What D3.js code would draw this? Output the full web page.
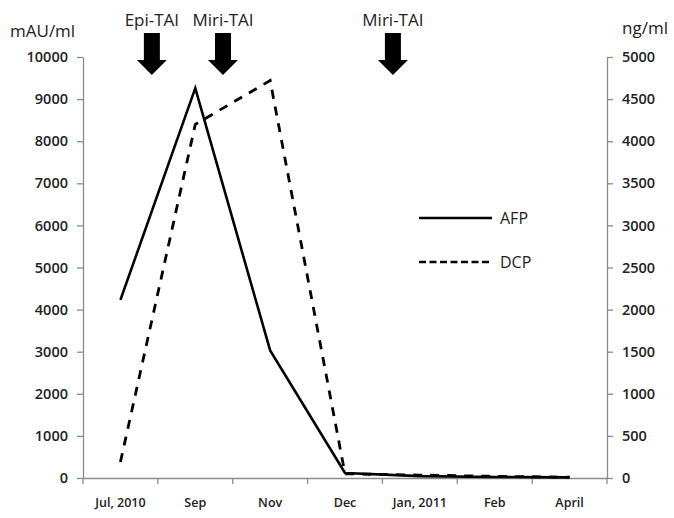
<!DOCTYPE html>
<html>
<head>
<meta charset="utf-8">
<script src="https://cdn.jsdelivr.net/npm/d3@7"></script>
<style>
  body { margin: 0; background: #fff; }
  text { font-family: "Open Sans", "Liberation Sans", Arial, sans-serif; fill: #222; }
  .y-lbl { font-size: 14.5px; font-weight: 600; }
  .x-lbl { font-size: 12.5px; font-weight: 600; }
</style>
</head>
<body>
<svg id="chart" width="674" height="518"></svg>
<script>
// chart data
const months = ['Jul, 2010', 'Sep', 'Nov', 'Dec', 'Jan, 2011', 'Feb', 'April'];
const afp = [4230, 9260, 3030, 120, 45, 25, 15];   // mAU/ml (left axis)
const dcp = [190, 4200, 4720, 50, 35, 20, 10];     // ng/ml (right axis)
const leftTicks = [0, 1000, 2000, 3000, 4000, 5000, 6000, 7000, 8000, 9000, 10000];
const rightTicks = [0, 500, 1000, 1500, 2000, 2500, 3000, 3500, 4000, 4500, 5000];
// treatment events, position in category units from the left axis
const events = [
  { label: 'Epi-TAI', at: 0.92 },
  { label: 'Miri-TAI', at: 1.87 },
  { label: 'Miri-TAI', at: 4.14 }
];

const svg = d3.select('#chart');
const plotL = 83, plotR = 607, plotT = 57, plotB = 478;

const x = d3.scaleBand().domain(months).range([plotL, plotR]).padding(0);
const xi = d3.scaleLinear().domain([0, months.length]).range([plotL, plotR]);
const yL = d3.scaleLinear().domain([0, 10000]).range([plotB, plotT]);
const yR = d3.scaleLinear().domain([0, 5000]).range([plotB, plotT]);
const cx = d => x(d) + x.bandwidth() / 2;

const axisColor = '#8a8a8a';
const fmt = d3.format('d');

// left axis
const gl = svg.append('g').attr('transform', `translate(${plotL},0)`)
  .call(d3.axisLeft(yL).tickValues(leftTicks).tickFormat(fmt)
    .tickSize(6).tickPadding(9).tickSizeOuter(0));
// right axis
const gr = svg.append('g').attr('transform', `translate(${plotR},0)`)
  .call(d3.axisRight(yR).tickValues(rightTicks).tickFormat(fmt)
    .tickSize(6).tickPadding(9).tickSizeOuter(0));
// bottom axis: labels at band centres, ticks at band edges
const gb = svg.append('g').attr('transform', `translate(0,${plotB})`)
  .call(d3.axisBottom(x).tickSize(0).tickPadding(20).tickSizeOuter(0));
gb.selectAll('.boundary')
  .data(d3.range(months.length + 1))
  .enter().append('line')
  .attr('x1', d => xi(d)).attr('x2', d => xi(d))
  .attr('y1', 0).attr('y2', 6);

[gl, gr, gb].forEach(g => {
  g.selectAll('path.domain').attr('stroke', axisColor).attr('stroke-width', 1.3);
  g.selectAll('line').attr('stroke', axisColor).attr('stroke-width', 1.3);
  g.selectAll('.tick text').attr('fill', '#2a2a2a');
});
gl.selectAll('.tick text').attr('class', 'y-lbl');
gr.selectAll('.tick text').attr('class', 'y-lbl');
gb.selectAll('.tick text').attr('class', 'x-lbl');

// unit labels
svg.append('text').attr('x', 10).attr('y', 37).attr('font-size', 17).text('mAU/ml');
svg.append('text').attr('x', 622).attr('y', 34).attr('font-size', 17).text('ng/ml');

// lines
const lineL = d3.line().x((d, i) => cx(months[i])).y(d => yL(d));
const lineR = d3.line().x((d, i) => cx(months[i])).y(d => yR(d));

svg.append('path').datum(dcp)
  .attr('d', lineR).attr('fill', 'none')
  .attr('stroke', '#000').attr('stroke-width', 2.8)
  .attr('stroke-dasharray', '9,8');

svg.append('path').datum(afp)
  .attr('d', lineL).attr('fill', 'none')
  .attr('stroke', '#000').attr('stroke-width', 2.6)
  .attr('stroke-linejoin', 'miter');

// event arrows
const ev = svg.selectAll('.event').data(events).enter().append('g')
  .attr('transform', d => `translate(${xi(d.at)},0)`);
ev.append('text')
  .attr('text-anchor', 'middle').attr('y', 26).attr('font-size', 17)
  .text(d => d.label);
ev.append('path')
  .attr('d', 'M-8,33 L8,33 L8,60 L15,60 L0,75 L-15,60 L-8,60 Z')
  .attr('fill', '#000');

// legend
const legend = [
  { name: 'AFP', dash: null, y: 218 },
  { name: 'DCP', dash: '7,3.5', y: 262 }
];
const lg = svg.selectAll('.lg').data(legend).enter().append('g');
lg.append('line')
  .attr('x1', 419).attr('x2', 492)
  .attr('y1', d => d.y).attr('y2', d => d.y)
  .attr('stroke', '#000').attr('stroke-width', 2.4)
  .attr('stroke-dasharray', d => d.dash);
lg.append('text')
  .attr('x', 500).attr('y', d => d.y + 6).attr('font-size', 16)
  .text(d => d.name);
</script>
</body>
</html>
